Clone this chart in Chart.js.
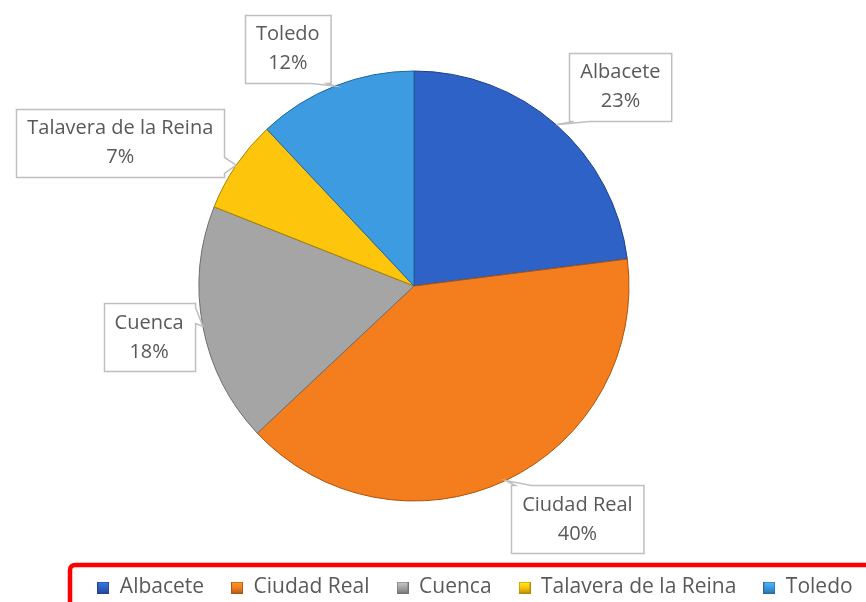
<!DOCTYPE html>
<html>
<head>
<meta charset="utf-8">
<script src="https://cdn.jsdelivr.net/npm/chart.js@4/dist/chart.umd.min.js"></script>
<style>
  html, body { margin: 0; padding: 0; background: #ffffff; }
  #wrap { width: 866px; height: 602px; position: relative; }
</style>
</head>
<body>
<div id="wrap"><canvas id="c" width="866" height="602"></canvas></div>
<script>
// ---- data ----
const categories = ['Albacete', 'Ciudad Real', 'Cuenca', 'Talavera de la Reina', 'Toledo'];
const values = [23, 40, 18, 7, 12];

// ---- styles ----
const sliceColors = ['#2f62c6', '#f47e1e', '#a5a5a5', '#fdc50c', '#3d9be2'];
const sliceEdges  = ['#1d3f86', '#a9530e', '#6e6e6e', '#a98300', '#23669a'];
// label placement: [angle from 12 o'clock (deg, clockwise), distance as multiple of radius]
const labelPlacement = [[46, 1.335], [145, 1.325], [259, 1.255], [296, 1.52], [332, 1.25]];

const FONT = "'Open Sans', Lato, 'DejaVu Sans', sans-serif";
Chart.defaults.font.family = FONT;

function shade(hex, f) {
  const n = parseInt(hex.slice(1), 16);
  let r = (n >> 16) & 255, g = (n >> 8) & 255, b = n & 255;
  r = Math.round(Math.min(255, r * f)); g = Math.round(Math.min(255, g * f)); b = Math.round(Math.min(255, b * f));
  return 'rgb(' + r + ',' + g + ',' + b + ')';
}

function sliceFill(ctx) {
  const chart = ctx.chart;
  const i = ctx.dataIndex;
  const base = sliceColors[i];
  const el = ctx.element;
  if (!chart.chartArea || !el || !el.outerRadius) return base;
  const g = chart.ctx.createRadialGradient(el.x, el.y, 0, el.x, el.y, el.outerRadius);
  g.addColorStop(0, shade(base, 1.02));
  g.addColorStop(0.9, base);
  g.addColorStop(0.97, shade(base, 0.92));
  g.addColorStop(1, shade(base, 0.78));
  return g;
}

function legendSwatch(color) {
  const c = document.createElement('canvas');
  c.width = 12; c.height = 12;
  const x = c.getContext('2d');
  const g = x.createLinearGradient(0, 0, 0, 12);
  g.addColorStop(0, shade(color, 1.25));
  g.addColorStop(0.5, color);
  g.addColorStop(1, shade(color, 0.75));
  x.fillStyle = g;
  x.fillRect(0, 0, 12, 12);
  x.strokeStyle = shade(color, 0.7);
  x.lineWidth = 1;
  x.strokeRect(0.5, 0.5, 11, 11);
  return c;
}

function calloutPath(ctx, l, t, r, b, tip) {
  let side;
  if (tip.y > b) side = 'bottom';
  else if (tip.y < t) side = 'top';
  else if (tip.x < l) side = 'left';
  else side = 'right';
  const w = 16, inset = 4;
  const mx = (l + r) / 2, my = (t + b) / 2;
  ctx.beginPath();
  ctx.moveTo(l, t);
  if (side === 'top') {
    const a = tip.x < mx ? l + inset : r - inset - w;
    ctx.lineTo(a, t); ctx.lineTo(tip.x, tip.y); ctx.lineTo(a + w, t);
  }
  ctx.lineTo(r, t);
  if (side === 'right') {
    const a = tip.y < my ? t + inset : b - inset - w;
    ctx.lineTo(r, a); ctx.lineTo(tip.x, tip.y); ctx.lineTo(r, a + w);
  }
  ctx.lineTo(r, b);
  if (side === 'bottom') {
    const a = tip.x > mx ? r - inset : l + inset + w;
    ctx.lineTo(a, b); ctx.lineTo(tip.x, tip.y); ctx.lineTo(a - w, b);
  }
  ctx.lineTo(l, b);
  if (side === 'left') {
    const a = tip.y > my ? b - inset : t + inset + w;
    ctx.lineTo(l, a); ctx.lineTo(tip.x, tip.y); ctx.lineTo(l, a - w);
  }
  ctx.closePath();
}

const calloutPlugin = {
  id: 'callouts',
  afterDatasetsDraw(chart) {
    const ctx = chart.ctx;
    const meta = chart.getDatasetMeta(0);
    const data = chart.data.datasets[0].data;
    const total = data.reduce((a, b) => a + b, 0);
    ctx.save();
    ctx.font = '20px ' + FONT;
    meta.data.forEach((arc, i) => {
      const p = arc.getProps(['x', 'y', 'startAngle', 'endAngle', 'outerRadius'], true);
      const mid = (p.startAngle + p.endAngle) / 2;
      const tip = { x: p.x + Math.cos(mid) * p.outerRadius, y: p.y + Math.sin(mid) * p.outerRadius };
      const place = labelPlacement[i];
      const ang = (place[0] - 90) * Math.PI / 180;
      const cx = p.x + Math.cos(ang) * p.outerRadius * place[1];
      const cy = p.y + Math.sin(ang) * p.outerRadius * place[1];
      const line1 = chart.data.labels[i];
      const line2 = Math.round(data[i] / total * 100) + '%';
      const tw = Math.max(ctx.measureText(line1).width, ctx.measureText(line2).width);
      const bw = tw + 22, bh = 68;
      const l = Math.round(cx - bw / 2) + 0.5, t = Math.round(cy - bh / 2) + 0.5;
      calloutPath(ctx, l, t, l + bw, t + bh, tip);
      ctx.fillStyle = '#ffffff';
      ctx.fill();
      ctx.strokeStyle = '#bfbfbf';
      ctx.lineWidth = 1.5;
      ctx.stroke();
      ctx.fillStyle = '#595959';
      ctx.textAlign = 'center';
      ctx.textBaseline = 'middle';
      ctx.fillText(line1, cx, cy - 14);
      ctx.fillText(line2, cx, cy + 15);
    });
    ctx.restore();
  }
};

const legendShiftPlugin = {
  id: 'legendShift',
  afterLayout(chart) {
    const lg = chart.legend;
    if (!lg) return;
    const dx = 61, dy = 6;
    lg.left += dx; lg.right += dx;
    lg.top += dy; lg.bottom += dy;
  },
  afterDraw(chart) {
    const ctx = chart.ctx;
    ctx.save();
    ctx.strokeStyle = '#ff0000';
    ctx.lineWidth = 4.5;
    ctx.beginPath();
    if (ctx.roundRect) ctx.roundRect(70, 565, 830, 60, 5); else ctx.rect(70, 565, 830, 60);
    ctx.stroke();
    ctx.restore();
  }
};

new Chart(document.getElementById('c'), {
  type: 'pie',
  data: {
    labels: categories,
    datasets: [{
      data: values,
      backgroundColor: sliceFill,
      borderColor: sliceEdges,
      borderWidth: 1,
      hoverOffset: 0
    }]
  },
  options: {
    responsive: false,
    animation: false,
    radius: 215,
    layout: { padding: { top: 28, right: 38, left: 0, bottom: 0 } },
    plugins: {
      legend: {
        position: 'bottom',
        labels: {
          color: '#595959',
          font: { size: 21 },
          boxWidth: 12,
          boxHeight: 12,
          padding: 27,
          usePointStyle: true,
          generateLabels(chart) {
            return chart.data.labels.map((lab, i) => ({
              text: lab,
              fontColor: '#595959',
              pointStyle: legendSwatch(sliceColors[i]),
              fillStyle: sliceColors[i],
              strokeStyle: sliceEdges[i],
              lineWidth: 0,
              hidden: false,
              index: i
            }));
          }
        }
      },
      tooltip: { enabled: false },
      title: { display: false }
    }
  },
  plugins: [calloutPlugin, legendShiftPlugin]
});
</script>
</body>
</html>
